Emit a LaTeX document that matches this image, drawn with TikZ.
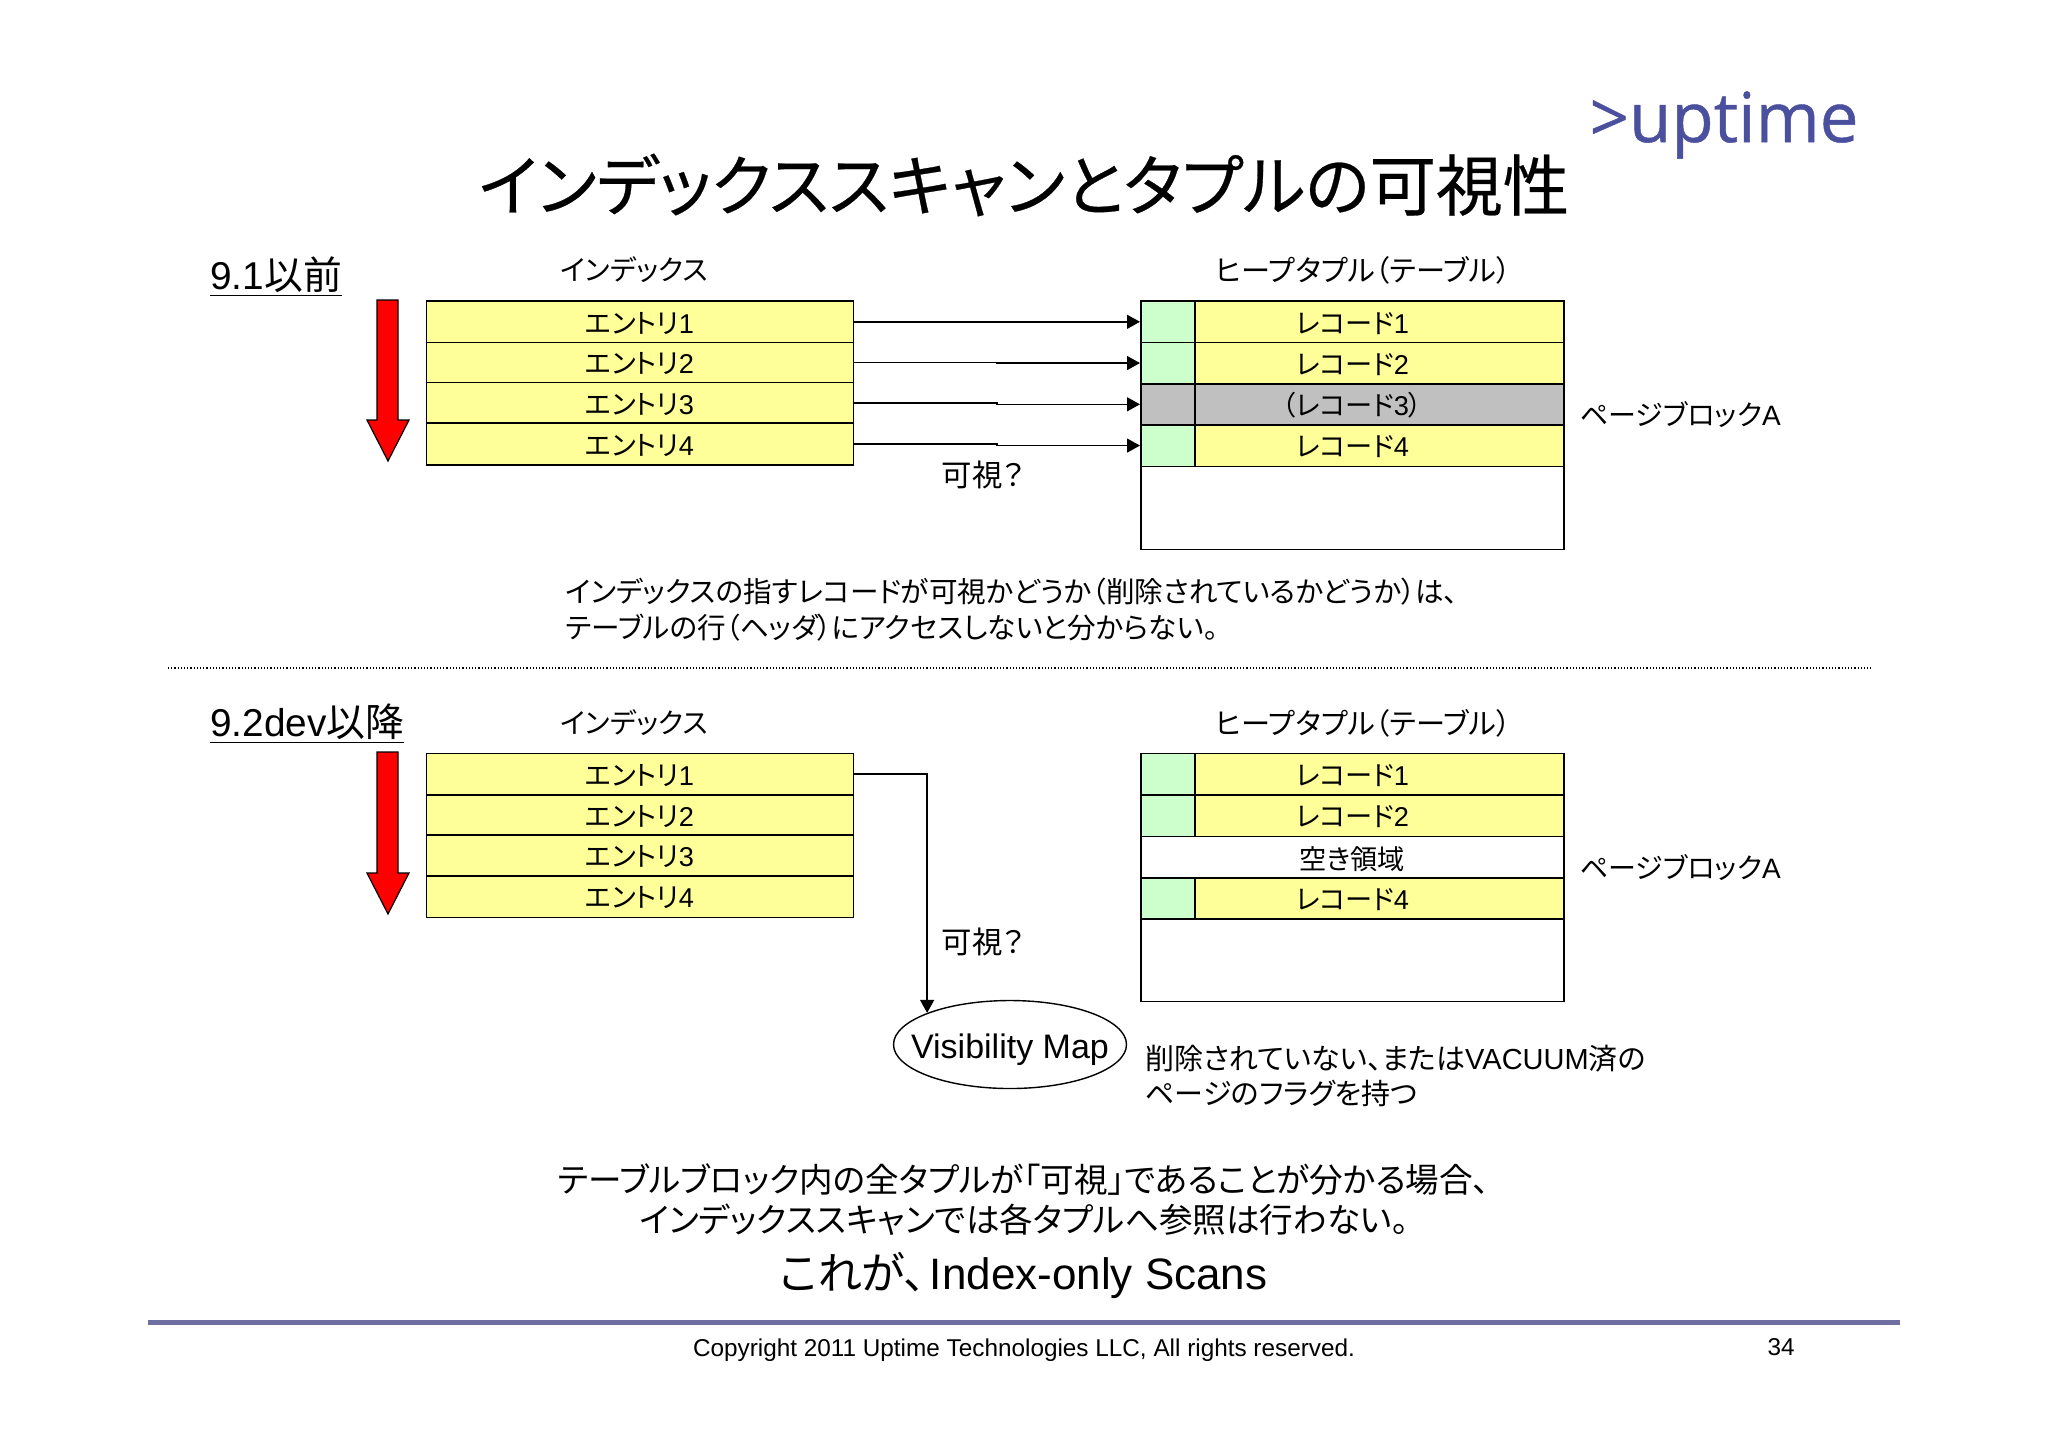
\documentclass[tikz,border=0pt]{standalone}
\usepackage{fontspec}
\setmainfont{Liberation Sans}
\newfontfamily\cjk[RawFeature={+palt}]{Noto Sans CJK JP}
\newfontfamily\cjkheavy[RawFeature={+palt},FakeBold=0.4]{Noto Sans CJK JP}
\newfontfamily\logofont[FakeBold=0.6]{Open Sans}
\newcommand{\jp}[1]{{\cjk #1}}
\usetikzlibrary{arrows.meta,shapes.geometric}
\definecolor{rowyellow}{HTML}{FFFF99}
\definecolor{flaggreen}{HTML}{CCFFCC}
\definecolor{deadgray}{HTML}{C0C0C0}
\definecolor{footline}{HTML}{6E6EA0}
\definecolor{logoblue}{HTML}{4A4F9E}
\tikzset{
  cell/.style={draw=black,line width=0.8pt,inner sep=0pt,anchor=north west,text height=12.3pt,text depth=1pt,font=\fontsize{13.6}{17}\selectfont},
  entry/.style={cell,fill=rowyellow,minimum width=213.5pt},
  flag/.style={cell,fill=flaggreen,minimum width=27pt},
  record/.style={cell,fill=rowyellow,minimum width=184.5pt,execute at begin node=\hspace{-27pt}},
  label/.style={inner sep=0pt,font=\fontsize{14}{17.3}\selectfont},
  notetext/.style={inner sep=0pt,anchor=west,align=left,font=\fontsize{14.4}{17.8}\selectfont},
  headline/.style={inner sep=0pt,font=\fontsize{19.4}{23}\selectfont},
  bottomtext/.style={inner sep=0pt,align=center,font=\fontsize{16.8}{20}\selectfont},
  link/.style={line width=0.7pt,-{Triangle[length=6.5pt,width=7pt]}},
  scanarrow/.style={draw=black,line width=0.6pt,fill=red}
}
\begin{document}
\begin{tikzpicture}[x=0.5pt,y=-0.5pt]
    \useasboundingbox (0,0) rectangle (2048,1448);

    \node[inner sep=0pt,font=\cjkheavy\fontsize{33.3}{40}\selectfont] (title) at (1024,185) {インデックススキャンとタプルの可視性};
    \node[inner sep=0pt,text=logoblue,font=\logofont\fontsize{34.5}{40}\selectfont] (logo) at (1724,125) {>uptime};

    \node[headline,anchor=west] (oldver) at (210,277) {\underline{9.1\jp{以前}}};
    \node[label] (oldindex) at (634,270) {\jp{インデックス}};
    \node[label,font=\fontsize{14.6}{17.3}\selectfont] (oldheap) at (1363,270) {\jp{ヒープタプル（テーブル）}};

    \path[scanarrow,draw] (377,300) -- (398,300) -- (398,420) -- (409,420) -- (388,461) -- (367,420) -- (377,420) -- cycle;

    \node[entry,minimum height=21pt] (enta) at (425.5,300) {\jp{エントリ}1};
    \node[entry,minimum height=20pt] (entb) at (425.5,341.5) {\jp{エントリ}2};
    \node[entry,minimum height=20.5pt] (entc) at (425.5,381.5) {\jp{エントリ}3};
    \node[entry,minimum height=21pt] (entd) at (425.5,422) {\jp{エントリ}4};

    \node[flag,minimum height=21pt] (flaga) at (1140,300) {};
    \node[record,minimum height=21pt] (reca) at (1194,300) {\jp{レコード}1};
    \node[flag,minimum height=20.75pt] (flagb) at (1140,341.5) {};
    \node[record,minimum height=20.75pt] (recb) at (1194,341.5) {\jp{レコード}2};
    \node[flag,fill=deadgray,minimum height=20.5pt] (flagc) at (1140,383) {};
    \node[record,fill=deadgray,minimum height=20.5pt] (recc) at (1194,383) {\jp{（レコード}3\jp{）}};
    \node[flag,minimum height=20.75pt] (flagd) at (1140,424) {};
    \node[record,minimum height=20.75pt] (recd) at (1194,424) {\jp{レコード}4};
    \node[cell,minimum width=211.5pt,minimum height=41.5pt] (emptya) at (1140,465.5) {};

    \draw[link] (enta.east) -- (flaga.west);
    \draw[link] (entb.east) -- ++(143,0) |- (flagb.west);
    \draw[link] (entc.east) -- ++(143,0) |- (flagc.west);
    \draw[link] (entd.east) -- ++(143,0) |- (flagd.west);

    \node[label,font=\fontsize{15.2}{17.3}\selectfont] (oldask) at (983,474.5) {\jp{可視？}};
    \node[label] (oldpage) at (1680.5,414.5) {\jp{ページブロック}A};
    \node[notetext,font=\fontsize{14.3}{17.8}\selectfont] (oldnote) at (565,609.5) {\jp{インデックスの指すレコードが可視かどうか（削除されているかどうか）は、}\\\jp{テーブルの行（ヘッダ）にアクセスしないと分からない。}};

    \draw[line width=0.6pt,densely dotted] (168,668) -- (1871,668);

    \node[headline,anchor=west] (newver) at (210,724) {\underline{9.2dev\jp{以降}}};
    \node[label] (newindex) at (634,723) {\jp{インデックス}};
    \node[label,font=\fontsize{14.6}{17.3}\selectfont] (newheap) at (1363,723) {\jp{ヒープタプル（テーブル）}};

    \path[scanarrow,draw] (377,752) -- (398,752) -- (398,873) -- (409,873) -- (388,914) -- (367,873) -- (377,873) -- cycle;

    \node[entry,minimum height=20.75pt] (lenta) at (425.5,752.5) {\jp{エントリ}1};
    \node[entry,minimum height=20pt] (lentb) at (425.5,794) {\jp{エントリ}2};
    \node[entry,minimum height=20.5pt] (lentc) at (425.5,834) {\jp{エントリ}3};
    \node[entry,minimum height=20.75pt] (lentd) at (425.5,875) {\jp{エントリ}4};

    \node[flag,minimum height=20.75pt] (lflaga) at (1140,752.5) {};
    \node[record,minimum height=20.75pt] (lreca) at (1194,752.5) {\jp{レコード}1};
    \node[flag,minimum height=20.75pt] (lflagb) at (1140,794) {};
    \node[record,minimum height=20.75pt] (lrecb) at (1194,794) {\jp{レコード}2};
    \node[cell,minimum width=211.5pt,minimum height=20.75pt,text depth=0pt] (lfree) at (1140,835.5) {\jp{空き領域}};
    \node[flag,minimum height=20.5pt] (lflagd) at (1140,877) {};
    \node[record,minimum height=20.5pt] (lrecd) at (1194,877) {\jp{レコード}4};
    \node[cell,minimum width=211.5pt,minimum height=41.25pt] (lemptya) at (1140,918) {};

    \node[draw,ellipse,line width=0.7pt,inner ysep=0pt,inner xsep=-8.3pt,minimum width=116.5pt,minimum height=44pt,text height=14pt,text depth=0pt,font=\fontsize{17}{20}\selectfont] (vmap) at (1010,1044.5) {Visibility Map};
    \draw[link] (lenta.east) -| (vmap.north west);

    \node[label,font=\fontsize{15.2}{17.3}\selectfont] (newask) at (983,942) {\jp{可視？}};
    \node[label] (newpage) at (1680.5,868) {\jp{ページブロック}A};
    \node[notetext,font=\fontsize{14.5}{17.8}\selectfont] (vmapnote) at (1145,1076) {\jp{削除されていない、または}VACUUM\jp{済の}\\\jp{ページのフラグを持つ}};

    \node[bottomtext] (summary) at (1024,1200) {\jp{テーブルブロック内の全タプルが「可視」であることが分かる場合、}\\\jp{インデックススキャンでは各タプルへ参照は行わない。}};
    \node[inner sep=0pt,font=\fontsize{22}{25}\selectfont] (conclusion) at (1023.5,1275.5) {\jp{これが、}\hspace{2pt}Index-only Scans};

    \draw[footline,line width=2.5pt] (148,1322) -- (1900,1322);
    \node[inner sep=0pt,font=\fontsize{12.16}{15}\selectfont] (copyright) at (1024,1350) {Copyright 2011 Uptime Technologies LLC, All rights reserved.};
    \node[inner sep=0pt,font=\fontsize{12.16}{15}\selectfont] (pageno) at (1781,1347.5) {34};
\end{tikzpicture}
\end{document}
